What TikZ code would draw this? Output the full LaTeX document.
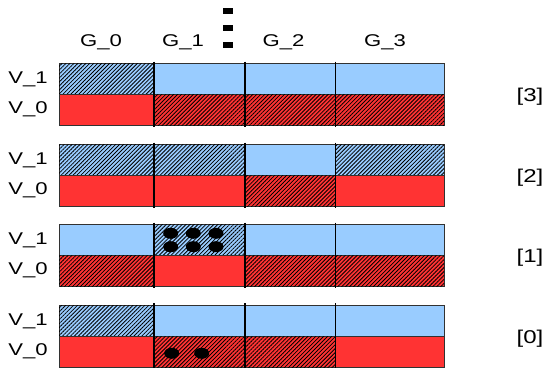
\documentclass[tikz,border=0pt]{standalone}
\usepackage{fontspec}
\setmainfont{Liberation Sans}
\usetikzlibrary{patterns.meta}
\definecolor{cblue}{RGB}{153,204,255}
\definecolor{cred}{RGB}{255,51,51}
\definecolor{cedge}{RGB}{50,50,50}
\newcommand\wide[1]{\scalebox{1.3}[1]{#1}}
\tikzset{
  bl/.style={fill=cblue, draw=cedge, line width=0.6pt},
  rd/.style={fill=cred, draw=cedge, line width=0.6pt},
  hatchy/.style={postaction={pattern={Lines[angle=45,distance=2.8pt,line width=0.8pt]}, pattern color=black}},
  plainy/.style={},
  divline/.style={draw=black, line width=1.6pt},
  lab/.style={font=\fontsize{17}{19}\selectfont, inner sep=0pt},
  blab/.style={font=\fontsize{18.5}{20}\selectfont, inner sep=0pt},
  dot/.style={fill=black},
  colonsq/.style={fill=black}
}
\begin{document}
\begin{tikzpicture}[x=1pt,y=-1pt]
\useasboundingbox (0,0) rectangle (551,367);
% column labels
\node[lab] (g0) at (101,42) {\wide{G\_0}};
\node[lab] (g1) at (183,42) {\wide{G\_1}};
\node[lab] (g2) at (283.5,42) {\wide{G\_2}};
\node[lab] (g3) at (385,42) {\wide{G\_3}};
% vertical ellipsis squares
\fill[colonsq] (223,7.5) rectangle (232.5,14);
\fill[colonsq] (223,24.5) rectangle (232.5,31);
\fill[colonsq] (223,41.5) rectangle (232.5,48);
% blocks
\foreach \T/\name/\vA/\vB/\vC/\vD/\wA/\wB/\wC/\wD in {
  63.5/3/hatchy/plainy/plainy/plainy/plainy/hatchy/hatchy/hatchy,
  144.5/2/hatchy/hatchy/plainy/hatchy/plainy/plainy/hatchy/plainy,
  224.5/1/plainy/hatchy/plainy/plainy/hatchy/plainy/hatchy/hatchy,
  305/0/hatchy/plainy/plainy/plainy/plainy/hatchy/hatchy/plainy}{
  \pgfmathsetmacro\M{\T+31}
  \pgfmathsetmacro\B{\T+62}
  \path[bl,\vA] (59,\T) rectangle (154,\M);
  \path[bl,\vB] (154,\T) rectangle (245,\M);
  \path[bl,\vC] (245,\T) rectangle (335.5,\M);
  \path[bl,\vD] (335.5,\T) rectangle (444,\M);
  \path[rd,\wA] (59,\M) rectangle (154,\B);
  \path[rd,\wB] (154,\M) rectangle (245,\B);
  \path[rd,\wC] (245,\M) rectangle (335.5,\B);
  \path[rd,\wD] (335.5,\M) rectangle (444,\B);
  \pgfmathsetmacro\Ta{\T-2}
  \pgfmathsetmacro\Ba{\B+1}
  \draw[divline] (154,\Ta) -- (154,\Ba);
  \draw[divline] (245,\Ta) -- (245,\Ba);
  \draw[divline] (335.5,\Ta) -- (335.5,\Ba);
  \pgfmathsetmacro\ya{\T+16}
  \pgfmathsetmacro\yb{\T+46}
  \pgfmathsetmacro\yc{\T+33.5}
  \node[lab] (v1-\name) at (28,\ya) {\wide{V\_1}};
  \node[lab] (v0-\name) at (28,\yb) {\wide{V\_0}};
  \node[blab] (lvl-\name) at (530,\yc) {\wide{[\name]}};
}
% dots
\foreach \x in {170.7,193.3,216}{
  \fill[dot] (\x,233.3) ellipse [x radius=7.5, y radius=5.5];
  \fill[dot] (\x,246.7) ellipse [x radius=7.5, y radius=5.5];
}
\fill[dot] (171.7,353.3) ellipse [x radius=7.5, y radius=5.5];
\fill[dot] (201.7,353.3) ellipse [x radius=7.5, y radius=5.5];
\end{tikzpicture}
\end{document}
